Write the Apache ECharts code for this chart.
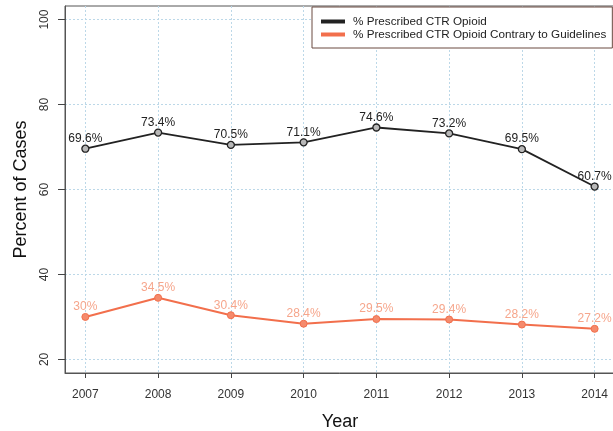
<!DOCTYPE html>
<html>
<head>
<meta charset="utf-8">
<script src="https://cdn.jsdelivr.net/npm/echarts@6/dist/echarts.min.js"></script>
<style>
  html, body { margin: 0; padding: 0; background: #fff; }
  #chart { width: 613px; height: 431px; }
</style>
</head>
<body>
<div id="chart"></div>
<script>
const years = [2007, 2008, 2009, 2010, 2011, 2012, 2013, 2014]
const ctrOpioid = [69.6, 73.4, 70.5, 71.1, 74.6, 73.2, 69.5, 60.7]
const contrary = [30, 34.5, 30.4, 28.4, 29.5, 29.4, 28.2, 27.2]
const yTicks = [20, 40, 60, 80, 100]

const font = 'Liberation Sans, Arial, sans-serif'
const gridLine = { show: true, lineStyle: { color: '#bcd8e8', type: [2, 2], width: 1 } }

const pairs = vals => years.map((y, i) => [y, vals[i]])

const option = {
    backgroundColor: '#ffffff',
    textStyle: { fontFamily: font },
    animation: false,
    grid: {
        left: 65,
        top: 6,
        width: 550,
        height: 367,
        outerBoundsMode: 'none',
        containLabel: false,
        show: true,
        borderColor: '#555',
        borderWidth: 1,
        backgroundColor: 'transparent',
    },
    legend: {
        orient: 'vertical',
        left: 312,
        top: 7,
        padding: [8, 6, 7, 9],
        itemGap: 0,
        itemWidth: 22,
        itemHeight: 2,
        icon: 'rect',
        borderColor: '#6a4a40',
        borderWidth: 1,
        backgroundColor: '#fff',
        textStyle: { fontFamily: font, fontSize: 11.7, lineHeight: 13, color: '#222', padding: [0, 0, 0, 4] },
        data: ['% Prescribed CTR Opioid', '% Prescribed CTR Opioid Contrary to Guidelines'],
    },
    xAxis: {
        type: 'value',
        min: 2006.72,
        max: 2014.28,
        name: 'Year',
        nameLocation: 'middle',
        nameGap: 40,
        nameTextStyle: { fontSize: 18, color: '#111', fontFamily: font },
        axisLine: { show: true, onZero: false, lineStyle: { color: '#555' } },
        axisTick: { show: true, length: 5, customValues: years, lineStyle: { color: '#444' } },
        axisLabel: {
            customValues: years,
            margin: 16,
            fontSize: 12,
            color: '#333',
            formatter: v => String(v),
        },
        splitLine: gridLine,
    },
    yAxis: {
        type: 'value',
        min: 16.8,
        max: 103.2,
        name: 'Percent of Cases',
        nameLocation: 'middle',
        nameGap: 35,
        nameRotate: 90,
        nameTextStyle: { fontSize: 18, color: '#111', fontFamily: font },
        axisLine: { show: true, lineStyle: { color: '#555' } },
        axisTick: { show: true, length: 7, customValues: yTicks, lineStyle: { color: '#444' } },
        axisLabel: {
            customValues: yTicks,
            rotate: 90,
            margin: 14,
            fontSize: 12,
            color: '#333',
        },
        splitLine: gridLine,
    },
    series: [
        {
            name: '% Prescribed CTR Opioid',
            type: 'line',
            data: pairs(ctrOpioid),
            color: '#1e2a30',
            lineStyle: { width: 1.8, color: '#222' },
            symbol: 'circle',
            symbolSize: 7,
            itemStyle: { color: '#b8b8b8', borderColor: '#222', borderWidth: 1.3 },
            label: {
                show: true,
                position: 'top',
                distance: 0,
                fontSize: 12,
                color: '#222',
                formatter: p => p.value[1] + '%',
            },
        },
        {
            name: '% Prescribed CTR Opioid Contrary to Guidelines',
            type: 'line',
            data: pairs(contrary),
            color: '#f4744f',
            lineStyle: { width: 2, color: '#f26f4c' },
            symbol: 'circle',
            symbolSize: 7,
            itemStyle: { color: '#f58a6c', borderColor: '#f26f4c', borderWidth: 1 },
            label: {
                show: true,
                position: 'top',
                distance: 0,
                fontSize: 12,
                color: '#f6a68c',
                formatter: p => p.value[1] + '%',
            },
        },
    ],
}

let chart = echarts.init(document.getElementById('chart'))
chart.setOption(option)
</script>
</body>
</html>
